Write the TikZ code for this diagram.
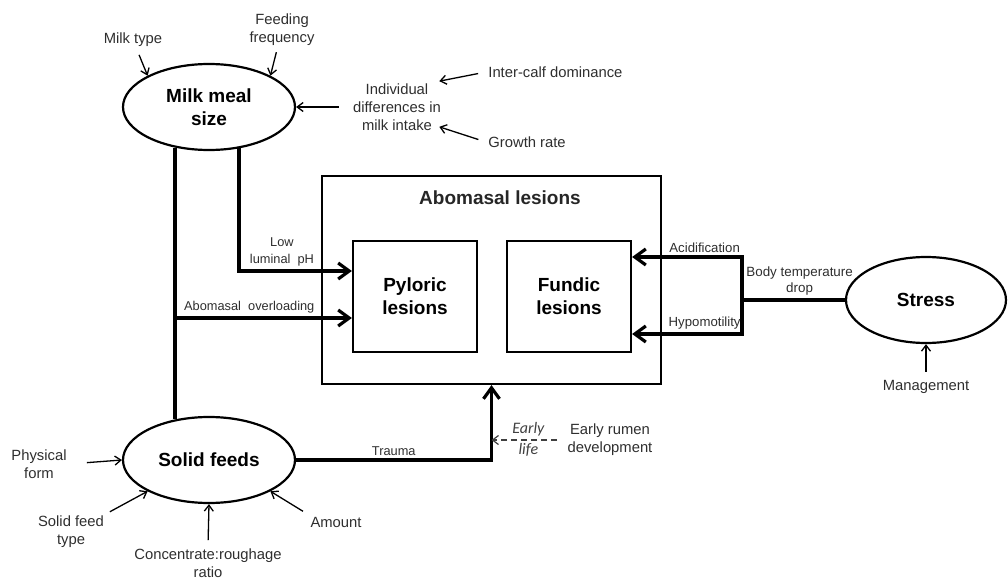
\documentclass[tikz,border=0pt]{standalone}
\usepackage{fontspec}
\setmainfont{Liberation Sans}
\newfontfamily\earlyfont{Carlito}
\usetikzlibrary{shapes.geometric,arrows.meta}

\begin{document}
\begin{tikzpicture}[x=0.5pt, y=-0.5pt,
        factor/.style = {ellipse, draw, line width=1.1pt, minimum width=86pt, minimum height=43pt, inner sep=0pt, align=center, font=\fontsize{9.5}{11.5}\selectfont\bfseries},
        lesion/.style = {draw, line width=1.1pt, minimum width=62pt, minimum height=55.5pt, align=center, font=\fontsize{9.5}{11.5}\selectfont\bfseries},
        note/.style = {align=center, inner sep=1pt, text=black!82, font=\fontsize{7.4}{9}\selectfont},
        small/.style = {align=center, inner sep=1.5pt, text=black!82, font=\fontsize{6.4}{8.4}\selectfont},
        cause/.style = {-{Straight Barb[length=3pt, width=4.5pt]}, line width=0.65pt},
        link/.style = {line width=1.6pt},
        effect/.style = {link, -{Straight Barb[length=5.5pt, width=8pt]}}]
        \useasboundingbox (0,0) rectangle (1008,578);

        \node[factor] (milk) at (209,107) {Milk meal\\size};
        \node[factor] (solid) at (209,460) {Solid feeds};
        \node[factor, minimum width=80pt] (stress) at (926,300) {Stress};

        \node[draw, line width=1.1pt, minimum width=169.5pt, minimum height=104pt] (abo) at (491.5,280) {};
        \node[font=\fontsize{9.5}{11.5}\selectfont\bfseries, text=black!85] (abotitle) at (500,198) {Abomasal lesions};
        \node[lesion] (pyl) at (415,296.5) {Pyloric\\lesions};
        \node[lesion] (fun) at (569,296.5) {Fundic\\lesions};

        \node[note] (mtype) at (133,40) {Milk type};
        \node[note] (freq) at (282,30) {Feeding\\frequency};
        \node[note] (indiv) at (397,107) {Individual\\differences in\\milk intake};
        \node[note, anchor=west] (dom) at (486,72) {Inter-calf dominance};
        \node[note, anchor=west] (growth) at (486,142) {Growth rate};

        \node[note] (phys) at (39,464) {Physical\\form};
        \node[note] (stype) at (71,532) {Solid feed\\type};
        \node[note] (conc) at (208,563) {Concentrate:roughage\\ratio};
        \node[note] (amount) at (336,522) {Amount};
        \node[note] (mgmt) at (926,387) {Management};
        \node[note] (rumen) at (610,440) {Early rumen\\development};

        \draw[cause, shorten <=3pt] (mtype) -- (milk.153);
        \draw[cause, shorten <=2pt] (freq) -- (milk.27);
        \draw[cause, shorten <=6pt] (indiv.west) -- (milk.east);
        \draw[cause, shorten <=4pt] (dom.west) -- ([xshift=-2pt]indiv.north east);
        \draw[cause, shorten <=4pt] (growth.west) -- ([xshift=-2pt, yshift=3pt]indiv.south east);

        \draw[cause, shorten <=9pt] (phys.east) -- (solid.west);
        \draw[cause, shorten <=2pt] (stype.north east) -- (solid.207);
        \draw[cause, shorten <=3pt] (conc.north) -- (solid.south);
        \draw[cause, shorten <=3pt] (amount.north west) -- (solid.333);
        \draw[cause, shorten <=3pt] (mgmt.north) -- (stress.south);

        \coordinate (ph) at ([yshift=12.75pt]pyl.west);
        \coordinate (over) at ([yshift=-10.75pt]pyl.west);
        \coordinate (acid) at ([yshift=19.75pt]fun.east);
        \coordinate (hypo) at ([yshift=-18.75pt]fun.east);
        \coordinate (split) at (742,300);

        \draw[link] (milk.-130) -- (solid.130);
        \draw[effect] (milk.-54) |- node[small, pos=0.69, above] {Low\\luminal\ \ pH} (ph);
        \draw[effect] (over -| milk.-130) -- node[small, pos=0.42, above] {Abomasal\ \ overloading} (over);

        \draw[link] (stress.west) -- node[small, pos=0.44, above, font=\fontsize{6.7}{8.3}\selectfont] {Body temperature\\drop} (split);
        \draw[effect] (split) |- node[small, pos=0.67, above, font=\fontsize{6.6}{8.3}\selectfont] {Acidification} (acid);
        \draw[effect] (split) |- node[small, pos=0.67, above, font=\fontsize{6.6}{8.3}\selectfont] {Hypomotility} (hypo);

        \draw[effect] (solid.east) -| node[small, pos=0.25, above] {Trauma} (abo.south);
        \draw[cause, dashed, dash pattern=on 3pt off 2pt, line width=0.6pt, black!75, shorten <=4pt] (rumen.west) -- (abo.south |- rumen.west)
            node[midway, above, inner sep=1.5pt, font=\earlyfont\fontsize{8}{9}\selectfont\itshape] {Early}
            node[midway, below, inner sep=1.5pt, font=\earlyfont\fontsize{8}{9}\selectfont\itshape] {life};
    \end{tikzpicture}
\end{document}
